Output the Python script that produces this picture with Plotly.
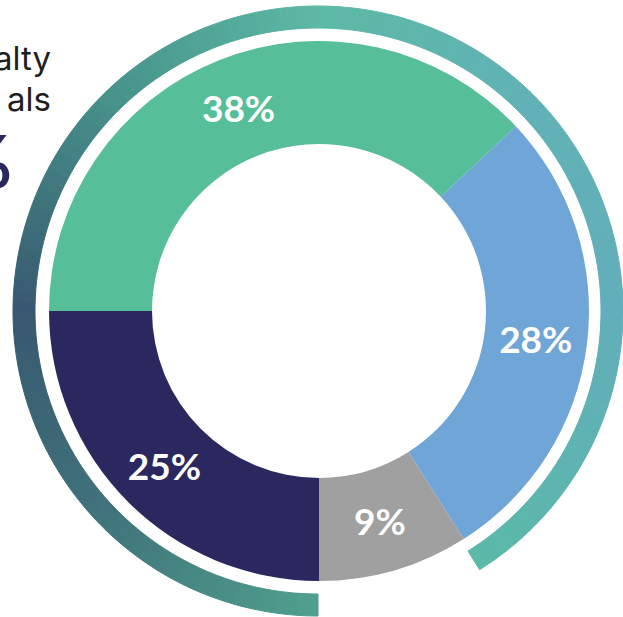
import plotly.graph_objects as go

# ---- data ----
categories = ["Green", "Blue", "Gray", "Navy"]
shares = [38, 28, 9, 25]
slice_colors = ["#56BE98", "#6FA5D7", "#A0A0A0", "#2A285E"]

# decorative gradient ring: arc from 6 o'clock clockwise, 328 degrees
ring_start_deg = 180
ring_span_deg = 328
ring_step_deg = 2
ring_stops = [  # (angle clockwise from 12 o'clock, rgb)
    (180, (80, 160, 142)),
    (225, (64, 116, 123)),
    (270, (56, 88, 112)),
    (315, (70, 145, 138)),
    (360, (92, 185, 165)),
    (405, (97, 178, 182)),
    (450, (98, 174, 186)),
    (508, (91, 185, 168)),
]

W, H = 623, 617


def ring_color(a):
    for (a0, c0), (a1, c1) in zip(ring_stops[:-1], ring_stops[1:]):
        if a0 <= a <= a1:
            t = (a - a0) / (a1 - a0)
            return "rgb(%d,%d,%d)" % tuple(round(c0[i] + (c1[i] - c0[i]) * t) for i in range(3))
    return "rgb(%d,%d,%d)" % ring_stops[-1][1]


n_seg = ring_span_deg // ring_step_deg
seg_colors = [ring_color(ring_start_deg + (i + 0.5) * ring_step_deg) for i in range(n_seg)]
ring_values = [ring_step_deg] * n_seg + [360 - ring_span_deg]
ring_colors = seg_colors + ["rgba(0,0,0,0)"]
ring_labels = ["seg%d" % i for i in range(len(ring_values))]

fig = go.Figure()

fig.add_trace(go.Pie(
    labels=ring_labels, values=ring_values, sort=False,
    direction="clockwise", rotation=ring_start_deg,
    hole=283 / 305,
    marker=dict(colors=ring_colors, line=dict(color=ring_colors, width=1)),
    textinfo="none", hoverinfo="skip", showlegend=False,
    domain=dict(x=[13 / W, 1.0], y=[1 / H, 611 / H]),
))

fig.add_trace(go.Pie(
    labels=categories, values=shares, sort=False,
    direction="clockwise", rotation=270,
    hole=167 / 270,
    marker=dict(colors=slice_colors, line=dict(width=0)),
    texttemplate="%{value}%", textposition="inside",
    insidetextorientation="horizontal",
    textfont=dict(family="Lato", size=37, color="white", weight="bold"),
    hoverinfo="label+percent", showlegend=False,
    domain=dict(x=[49 / W, 589 / W], y=[36 / H, 576 / H]),
))

fig.add_annotation(text="alty", x=53 / W, y=1 - 58 / H, xref="paper", yref="paper",
                   xanchor="right", yanchor="middle", showarrow=False,
                   font=dict(family="Inter", size=33, color="#1E1E1E"))
fig.add_annotation(text="als", x=53 / W, y=1 - 99 / H, xref="paper", yref="paper",
                   xanchor="right", yanchor="middle", showarrow=False,
                   font=dict(family="Inter", size=33, color="#1E1E1E"))
fig.add_annotation(text="%", x=14 / W, y=1 - 160 / H, xref="paper", yref="paper",
                   xanchor="right", yanchor="middle", showarrow=False,
                   font=dict(family="Lato", size=72, color="#2A285E", weight="bold"))

fig.update_layout(width=W, height=H, margin=dict(l=0, r=0, t=0, b=0),
                  paper_bgcolor="white", plot_bgcolor="white")

fig.write_html("out.html")
